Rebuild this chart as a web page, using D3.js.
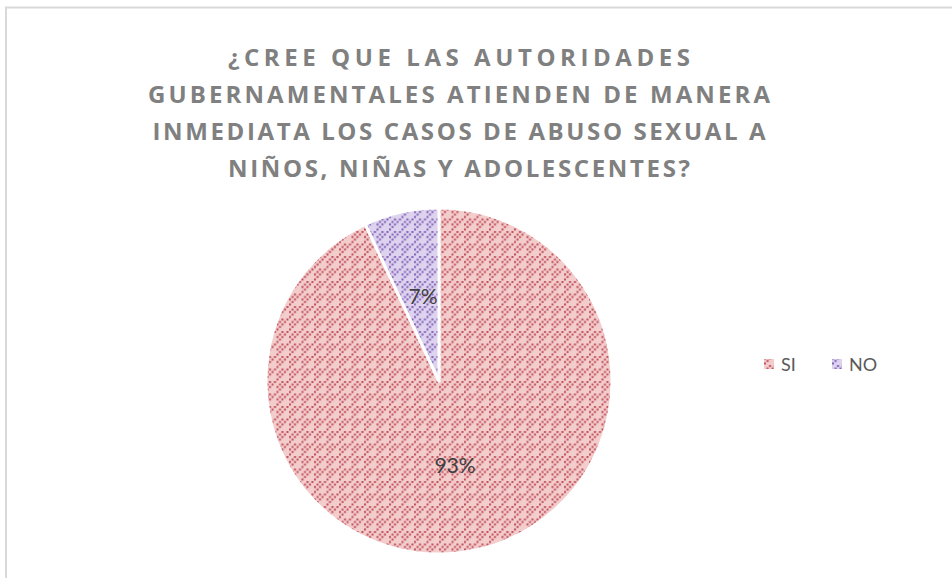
<!DOCTYPE html>
<html lang="es">
<head>
<meta charset="UTF-8">
<title>Pie</title>
<script src="https://cdnjs.cloudflare.com/ajax/libs/d3/7.8.5/d3.min.js"></script>
<style>
  body { margin: 0; background: #fff; }
  svg { display: block; }
  .title { font-family: "Open Sans", Lato, sans-serif; font-weight: 700; fill: #808080; }
  .label { font-family: Lato, "Open Sans", sans-serif; fill: #404040; font-size: 21px; }
  .legend text { font-family: Lato, "Open Sans", sans-serif; fill: #595959; font-size: 18px; }
</style>
</head>
<body>
<div id="wrapper"></div>
<script>
// data
const categories = ['SI', 'NO']
const values = [93, 7]
const labels = ['93%', '7%']
const titleLines = [
  '¿CREE QUE LAS AUTORIDADES',
  'GUBERNAMENTALES ATIENDEN DE MANERA',
  'INMEDIATA LOS CASOS DE ABUSO SEXUAL A',
  'NIÑOS, NIÑAS Y ADOLESCENTES?'
]

const width = 952
const height = 578

const svg = d3.select('#wrapper').append('svg')
  .attr('width', width)
  .attr('height', height)

// patrones de relleno con puntos
const defs = svg.append('defs')
const palette = {
  SI: { bg: '#f3cccc', dot: '#c04f5a' },
  NO: { bg: '#ddd3ee', dot: '#8160b8' }
}
const dotCells = [[0, 10], [2.5, 7.5], [5, 5], [7.5, 2.5], [10, 0], [0, 5], [5, 0], [2.5, 2.5]]
categories.forEach(c => {
  const p = defs.append('pattern')
    .attr('id', 'pat-' + c)
    .attr('patternUnits', 'userSpaceOnUse')
    .attr('width', 12.5)
    .attr('height', 12.5)
  p.append('rect').attr('width', 12.5).attr('height', 12.5).attr('fill', palette[c].bg)
  p.selectAll('rect.d').data(dotCells).join('rect')
    .attr('class', 'd')
    .attr('x', d => d[0])
    .attr('y', d => d[1])
    .attr('width', 2)
    .attr('height', 2)
    .attr('fill', palette[c].dot)
})

// marco
svg.append('rect')
  .attr('x', 6).attr('y', 7.5)
  .attr('width', 960).attr('height', 600)
  .attr('fill', 'none')
  .attr('stroke', '#d9d9d9')
  .attr('stroke-width', 2)

// titulo
const titleWidths = [462, 622, 613, 462]
svg.append('g').selectAll('text')
  .data(titleLines)
  .join('text')
  .attr('class', 'title')
  .attr('x', 459)
  .attr('y', (d, i) => 66 + i * 37)
  .attr('text-anchor', 'middle')
  .style('font-size', '24px')
  .attr('textLength', (d, i) => titleWidths[i])
  .attr('lengthAdjust', 'spacing')
  .text(d => d)

// pie
const cx = 439, cy = 381, r = 173
const pie = d3.pie().sort(null).value(d => d.value)
const arcs = pie(categories.map((c, i) => ({ cat: c, value: values[i], label: labels[i] })))
const arc = d3.arc().innerRadius(0).outerRadius(r)

const g = svg.append('g').attr('transform', `translate(${cx},${cy})`)
g.selectAll('path')
  .data(arcs)
  .join('path')
  .attr('d', arc)
  .attr('fill', d => `url(#pat-${d.data.cat})`)
  .attr('stroke', '#fff')
  .attr('stroke-width', 3)
  .attr('stroke-linejoin', 'round')

g.selectAll('text')
  .data(arcs)
  .join('text')
  .attr('class', 'label')
  .attr('x', d => arc.centroid(d)[0] * 0.85)
  .attr('y', d => arc.centroid(d)[1] * 1.0)
  .attr('text-anchor', 'middle')
  .attr('dy', '0.35em')
  .text(d => d.data.label)

// leyenda
const legendX = d3.scaleOrdinal().domain(categories).range([764, 832])
const legend = svg.append('g').attr('class', 'legend')
const items = legend.selectAll('g').data(categories).join('g')
  .attr('transform', d => `translate(${legendX(d)},365)`)
items.append('rect')
  .attr('x', 0).attr('y', -6)
  .attr('width', 10).attr('height', 10)
  .attr('fill', d => `url(#pat-${d})`)
items.append('text')
  .attr('x', 17)
  .attr('y', 0)
  .attr('dy', '0.35em')
  .text(d => d)
</script>
</body>
</html>
